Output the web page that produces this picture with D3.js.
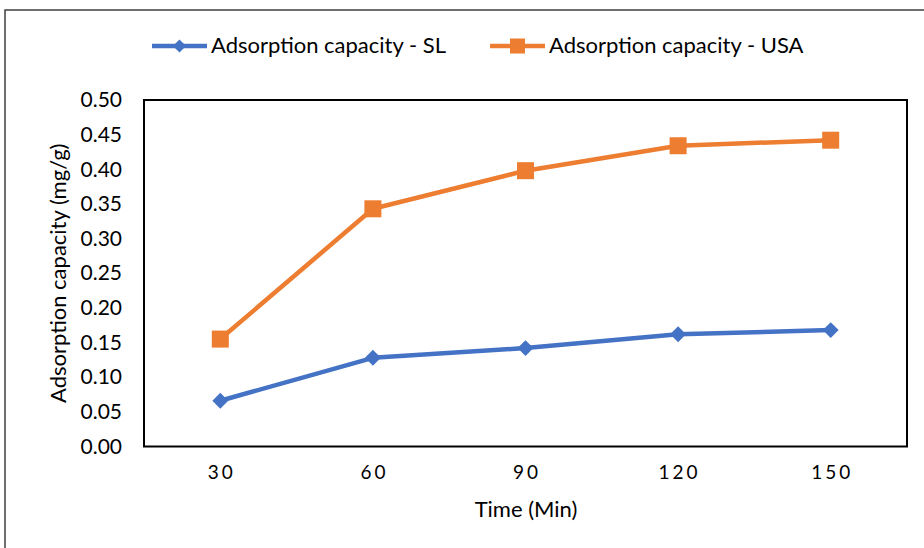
<!DOCTYPE html>
<html>
<head>
<meta charset="utf-8">
<script src="https://cdn.jsdelivr.net/npm/d3@7"></script>
<style>
  html, body { margin: 0; padding: 0; background: #fff; }
  svg { display: block; }
  text { font-family: Lato, "Open Sans", sans-serif; fill: #000; }
</style>
</head>
<body>
<svg id="chart" width="924" height="548"></svg>
<script>
// Adsorption capacity over contact time for two adsorbents
const times = ["30", "60", "90", "120", "150"];
const slValues = [0.066, 0.128, 0.142, 0.162, 0.168];
const usaValues = [0.155, 0.343, 0.398, 0.434, 0.442];
const yTicks = [0, 0.05, 0.10, 0.15, 0.20, 0.25, 0.30, 0.35, 0.40, 0.45, 0.50];
const seriesNames = ["Adsorption capacity - SL", "Adsorption capacity - USA"];
const seriesColors = ["#4472C4", "#ED7D31"];

const svg = d3.select("#chart");
const plot = { left: 144, right: 907, top: 100, bottom: 446.5 };

// outer chart border
svg.append("rect")
  .attr("x", 5).attr("y", 10)
  .attr("width", 940).attr("height", 560)
  .attr("fill", "none").attr("stroke", "#404040").attr("stroke-width", 1.5);

const x = d3.scaleBand().domain(times).range([plot.left, plot.right]);
const y = d3.scaleLinear().domain([0, 0.5]).range([plot.bottom, plot.top]);

// plot frame
svg.append("rect")
  .attr("x", plot.left).attr("y", plot.top)
  .attr("width", plot.right - plot.left).attr("height", plot.bottom - plot.top)
  .attr("fill", "none").attr("stroke", "#000").attr("stroke-width", 2);

// y axis labels
const yAxis = d3.axisLeft(y).tickValues(yTicks).tickFormat(d3.format(".2f")).tickSize(0).tickPadding(22);
const gy = svg.append("g").attr("transform", `translate(${plot.left},0)`).call(yAxis);
gy.select(".domain").remove();
gy.selectAll("text").style("font-size", "21px").style("font-family", "Lato, sans-serif").attr("fill", "#000");

// x axis labels (letter-spaced; shift by half the trailing spacing to stay centred)
const xAxis = d3.axisBottom(x).tickSize(0).tickPadding(19);
const gx = svg.append("g").attr("transform", `translate(0,${plot.bottom})`).call(xAxis);
gx.select(".domain").remove();
gx.selectAll("text").style("font-size", "19px").style("letter-spacing", "3px")
  .style("font-family", "Lato, sans-serif").attr("fill", "#000").attr("dx", "1.5");

// axis titles
svg.append("text")
  .attr("x", 526).attr("y", 517)
  .attr("text-anchor", "middle")
  .style("font-size", "22px")
  .text("Time (Min)");

svg.append("text")
  .attr("transform", `translate(66,${(plot.top + plot.bottom) / 2}) rotate(-90)`)
  .attr("text-anchor", "middle")
  .style("font-size", "22px")
  .text("Adsorption capacity (mg/g)");

const cx = d => x(d) + x.bandwidth() / 2;
const line = d3.line().x(d => cx(d.t)).y(d => y(d.v));

const allSeries = [slValues, usaValues].map(vals => times.map((t, i) => ({ t, v: vals[i] })));

const diamond = d3.symbol().type(d3.symbolDiamond2).size(160);

allSeries.forEach((pts, si) => {
  svg.append("path")
    .datum(pts)
    .attr("d", line)
    .attr("fill", "none")
    .attr("stroke", seriesColors[si])
    .attr("stroke-width", 4.5)
    .attr("stroke-linejoin", "round");

  if (si === 0) {
    svg.selectAll(null).data(pts).enter().append("path")
      .attr("d", diamond)
      .attr("transform", d => `translate(${cx(d.t)},${y(d.v)})`)
      .attr("fill", seriesColors[si]);
  } else {
    svg.selectAll(null).data(pts).enter().append("rect")
      .attr("x", d => cx(d.t) - 8.5).attr("y", d => y(d.v) - 8.5)
      .attr("width", 17).attr("height", 17)
      .attr("fill", seriesColors[si]);
  }
});

// legend
const legendItems = [
  { x0: 152, x1: 207, tx: 211 },
  { x0: 490, x1: 545, tx: 549 }
];
const ly = 46;
legendItems.forEach((it, i) => {
  const g = svg.append("g");
  g.append("line")
    .attr("x1", it.x0).attr("x2", it.x1).attr("y1", ly).attr("y2", ly)
    .attr("stroke", seriesColors[i]).attr("stroke-width", 4.5);
  const mx = (it.x0 + it.x1) / 2;
  if (i === 0) {
    g.append("path").attr("d", d3.symbol().type(d3.symbolDiamond2).size(110))
      .attr("transform", `translate(${mx},${ly})`).attr("fill", seriesColors[i]);
  } else {
    g.append("rect").attr("x", mx - 7.5).attr("y", ly - 7.5).attr("width", 15).attr("height", 15)
      .attr("fill", seriesColors[i]);
  }
  g.append("text")
    .attr("x", it.tx).attr("y", ly + 7)
    .style("font-size", "22px")
    .text(seriesNames[i]);
});
</script>
</body>
</html>
